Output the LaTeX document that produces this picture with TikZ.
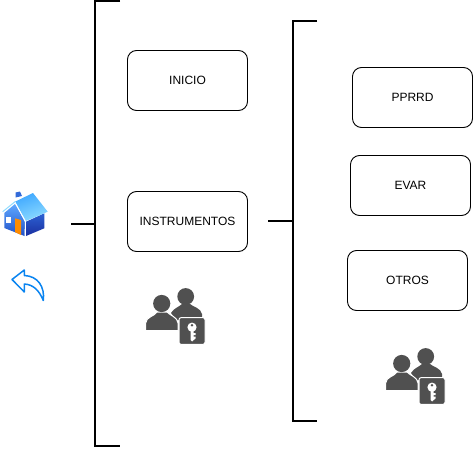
\documentclass[tikz,border=0pt]{standalone}
\usepackage{fontspec}
\setmainfont{Liberation Sans}
\definecolor{icongray}{HTML}{505050}
\definecolor{replyblue}{HTML}{0A84F0}
\definecolor{roofa}{HTML}{3FA8FF}
\definecolor{roofb}{HTML}{8FDCFF}
\definecolor{walla}{HTML}{5FA8FF}
\definecolor{wallb}{HTML}{2050C8}
\definecolor{walld}{HTML}{1A2FA0}
\tikzset{
  menubox/.style={draw=black,line width=0.9pt,rounded corners=9pt,fill=white,minimum width=120pt,minimum height=60pt,inner sep=0pt,font=\fontsize{12}{14}\selectfont},
  bracket/.style={draw=black,line width=2pt,line join=miter},
  stub/.style={draw=black,line width=2pt},
  pics/userkey/.style={code={
    % back person
    \fill[icongray] (39.7,-15.5) circle (8.4);
    \fill[icongray] (25,1) .. controls (28,-4) and (33,-5) .. (36,-8) -- (44,-8) .. controls (47,-5) and (55,-4) .. (56,2) -- (56,8) -- (30,8) -- cycle;
    % front person
    \fill[icongray,draw=white,line width=1pt] (-0.3,18.5) -- (-0.3,11) .. controls (0,5) and (8,4.5) .. (11,0) -- (21,0) .. controls (24,3.5) and (31.5,5) .. (32,11) -- (32,18.5) -- cycle;
    \fill[icongray] (15.7,-8.5) circle (8.6);
    % key box
    \fill[icongray,draw=white,line width=1pt,rounded corners=2pt] (33,5.7) rectangle (59,32.3);
    \fill[white] (46,15.2) circle (4.6);
    \fill[white] (44.5,18) -- (47.5,18) -- (47.5,21) -- (49.5,21) -- (49.5,23) -- (47.5,23) -- (47.5,24.5) -- (49.5,24.5) -- (49.5,26.5) -- (46,29.5) -- (44.5,28) -- cycle;
    \fill[icongray] (46,13.3) circle (1.4);
  }}
}
\begin{document}
\begin{tikzpicture}[x=1pt,y=-1pt]
\useasboundingbox (0,0) rectangle (473,449);
% left bracket
\coordinate (ltop) at (120,1);
\coordinate (lbot) at (120,446);
\coordinate (lstub) at (71,224);
\coordinate (lmid) at (95,224);
\draw[bracket] (ltop) -- (95,1) -- (95,446) -- (lbot);
\draw[stub] (lstub) -- (lmid);
% right bracket
\coordinate (rtop) at (317,21);
\coordinate (rbot) at (317,421);
\coordinate (rstub) at (268,220.5);
\coordinate (rmid) at (293,220.5);
\draw[bracket] (rtop) -- (293,21) -- (293,421) -- (rbot);
\draw[stub] (rstub) -- (rmid);
% boxes
\node[menubox] (inicio) at (187.5,80.5) {INICIO};
\node[menubox] (instr) at (187.5,221.5) {INSTRUMENTOS};
\node[menubox] (pprrd) at (412.5,97.5) {PPRRD};
\node[menubox] (evar) at (410.5,185.5) {EVAR};
\node[menubox] (otros) at (407.5,280.5) {OTROS};
% user-key icons
\pic at (146,312) {userkey};
\pic at (386,372) {userkey};
% house
\shade[top color=walla,bottom color=wallb,shading angle=0] (4.3,213) -- (15,204) -- (25,221.7) -- (24.5,236) -- (4.3,228) -- cycle;
\shade[top color=wallb!80!walla,bottom color=walld] (26,221.7) -- (44.3,213.3) -- (44.3,228.3) -- (26,236) -- cycle;
\shade[top color=roofa,bottom color=roofb,shading angle=20] (15,201.7) -- (33,193) -- (47.7,211.7) -- (26,221) -- cycle;
\draw[white,line width=0.8pt] (15,202) -- (25.3,221.7) -- (25.3,237);
\draw[roofb,line width=1pt] (2.7,211.7) -- (15,201.7);
\fill[wallb!70!walla] (15.5,192.5) -- (20,191.5) -- (22,196) -- (15.5,197.5) -- cycle;
\fill[white] (6,217.3) rectangle (11,223.3);
\fill[orange!90!yellow] (15,218.3) -- (21,220) -- (21,235) -- (15,232) -- cycle;
% reply arrow
\draw[replyblue,line width=1.5pt,line join=round] (24.3,270) -- (12,279.5) -- (24.3,292) -- (24.3,284) .. controls (33,284.5) and (39,290) .. (43.3,300.5) .. controls (45,287) and (38,276) .. (24.3,275.5) -- cycle;
\end{tikzpicture}
\end{document}
